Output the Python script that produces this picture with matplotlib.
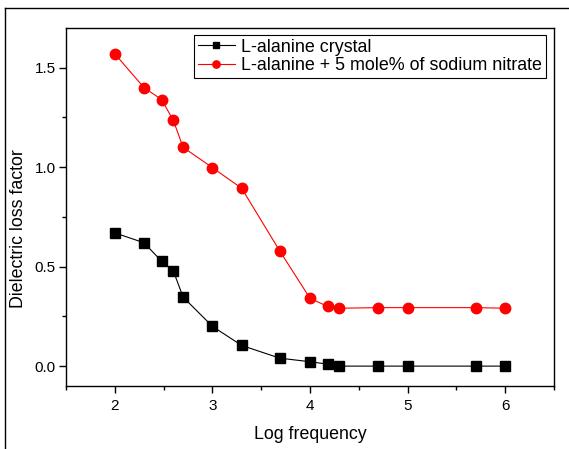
import matplotlib
matplotlib.use("Agg")
import matplotlib.pyplot as plt
from matplotlib.lines import Line2D
from matplotlib.ticker import MultipleLocator, FormatStrFormatter

plt.rcParams["font.family"] = ["Liberation Sans", "DejaVu Sans"]

# data
log_freq = [2.0, 2.3, 2.48, 2.6, 2.7, 3.0, 3.3, 3.69, 4.0, 4.18, 4.3, 4.7, 5.0, 5.7, 6.0]
loss_pure = [0.670, 0.620, 0.527, 0.478, 0.347, 0.200, 0.104, 0.040, 0.022, 0.010,
             0.0, 0.0, 0.0, 0.0, 0.0]
loss_doped = [1.570, 1.400, 1.340, 1.235, 1.100, 0.998, 0.894, 0.579, 0.341, 0.300,
              0.291, 0.294, 0.294, 0.294, 0.291]
label_pure = "L-alanine crystal"
label_doped = "L-alanine + 5 mole% of sodium nitrate"

fig = plt.figure(figsize=(5.69, 4.49), dpi=100)
ax = fig.add_axes([66 / 569, 63 / 449, 488 / 569, 358 / 449])

ax.plot(log_freq, loss_pure, color="black", lw=0.8, marker="s", ms=6.5,
        label=label_pure)
ax.plot(log_freq, loss_doped, color="red", lw=0.8, marker="o", ms=7.5,
        label=label_doped)

ax.set_xlim(1.5, 6.5)
ax.set_ylim(-0.1, 1.7)
ax.xaxis.set_major_locator(MultipleLocator(1))
ax.xaxis.set_minor_locator(MultipleLocator(0.5))
ax.yaxis.set_major_locator(MultipleLocator(0.5))
ax.yaxis.set_minor_locator(MultipleLocator(0.25))
ax.yaxis.set_major_formatter(FormatStrFormatter("%.1f"))
ax.tick_params(which="major", direction="out", length=5, width=1, labelsize=11,
               pad=2.5)
ax.tick_params(axis="x", which="major", pad=4)
ax.tick_params(which="minor", direction="out", length=3, width=1)
for s in ax.spines.values():
    s.set_linewidth(1)

ax.set_xlabel("Log frequency", fontsize=12.8, labelpad=10)
ax.set_ylabel("Dielectric loss factor", fontsize=12.8)
ax.yaxis.set_label_coords(-0.08, 0.44)

leg = ax.legend(loc="upper left", bbox_to_anchor=(128 / 488, 1 - 7 / 358),
                fontsize=12.9, fancybox=False, framealpha=1, edgecolor="black",
                markerscale=0.7, handlelength=2.1, handletextpad=0.35,
                borderpad=0.2, labelspacing=0.08, borderaxespad=0)
leg.get_frame().set_linewidth(0.8)

# outer frame of the original figure
fig.add_artist(Line2D([5 / 569, 1], [1 - 8 / 449, 1 - 8 / 449],
                      transform=fig.transFigure, color="black", lw=1))
fig.add_artist(Line2D([5 / 569, 5 / 569], [0, 1 - 8 / 449],
                      transform=fig.transFigure, color="black", lw=1))

fig.savefig("out.png", dpi=100)
